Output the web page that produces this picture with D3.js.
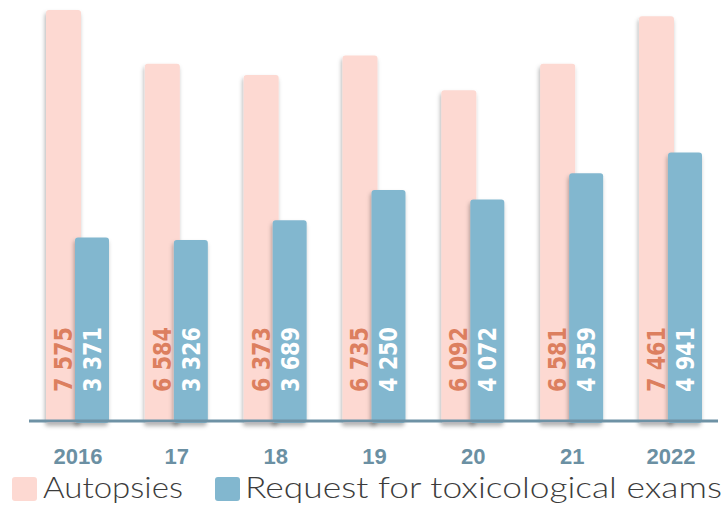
<!DOCTYPE html>
<html><head><meta charset="utf-8">
<script src="https://cdn.jsdelivr.net/npm/d3@7"></script>
<style>html,body{margin:0;padding:0;background:#fff;overflow:hidden}</style>
</head><body>
<svg id="c" width="726" height="507"></svg>
<script>
const years = ["2016","17","18","19","20","21","2022"];
const autopsies = [7575, 6584, 6373, 6735, 6092, 6581, 7461];
const toxRequests = [3371, 3326, 3689, 4250, 4072, 4559, 4941];
const autopsyLabels = ["7 575","6 584","6 373","6 735","6 092","6 581","7 461"];
const toxLabels = ["3 371","3 326","3 689","4 250","4 072","4 559","4 941"];
const seriesNames = ["Autopsies","Request for toxicological exams"];

const pink = "#FDD9D2", blue = "#82B7CF";
const svg = d3.select("#c");
const defs = svg.append("defs");
const f = defs.append("filter").attr("id","sh").attr("x","-50%").attr("y","-10%").attr("width","200%").attr("height","130%");
f.append("feDropShadow").attr("dx",-1).attr("dy",3).attr("stdDeviation",2).attr("flood-color","#000").attr("flood-opacity",0.3);

const x = d3.scaleBand().domain(years).range([46, 703]).paddingInner(0.3524).paddingOuter(0);
const y = d3.scaleLinear().domain([0, 7760]).range([420, 0]);
const bw = 35, off = 29;

const g = svg.append("g");
g.selectAll("rect.a").data(years).join("rect").attr("class","a")
  .attr("x", d => x(d)).attr("width", bw)
  .attr("y", (d,i) => y(autopsies[i])).attr("height", (d,i) => y(0) - y(autopsies[i]) + 3)
  .attr("rx", 3).attr("fill", pink).attr("filter","url(#sh)");
g.selectAll("rect.b").data(years).join("rect").attr("class","b")
  .attr("x", d => x(d) + off).attr("width", bw - 1)
  .attr("y", (d,i) => y(toxRequests[i])).attr("height", (d,i) => y(0) - y(toxRequests[i]) + 3)
  .attr("rx", 3).attr("fill", blue).attr("filter","url(#sh)");

const lblFont = "'DejaVu Sans', sans-serif";
g.selectAll("text.la").data(years).join("text").attr("class","la")
  .attr("transform", d => `translate(${x(d) + 26},${y(0) - 28}) rotate(-90)`)
  .attr("font-family", lblFont).attr("font-weight","bold").attr("font-size", 24)
  .attr("textLength", 65).attr("lengthAdjust","spacingAndGlyphs")
  .attr("fill", "#DC7F5F").text((d,i) => autopsyLabels[i]);
g.selectAll("text.lb").data(years).join("text").attr("class","lb")
  .attr("transform", d => `translate(${x(d) + off + 26},${y(0) - 28}) rotate(-90)`)
  .attr("font-family", lblFont).attr("font-weight","bold").attr("font-size", 24)
  .attr("textLength", 65).attr("lengthAdjust","spacingAndGlyphs")
  .attr("fill", "#ffffff").text((d,i) => toxLabels[i]);

const axis = d3.axisBottom(x).tickSize(0).tickPadding(0);
const ax = svg.append("g").attr("transform", "translate(0,421)").call(axis);
ax.select(".domain").attr("d", "M29,0H718").attr("stroke", "#6E92A5").attr("stroke-width", 3);
ax.selectAll(".tick text").attr("dy", 0).attr("y", 43)
  .attr("font-family", "'Liberation Sans', Arial, sans-serif").attr("font-weight","bold")
  .attr("font-size", 22).attr("fill", "#6B90A3");
ax.selectAll(".tick").attr("transform", d => `translate(${x(d) + 32},0)`);

const legend = svg.append("g");
const lg = [
  {name: seriesNames[0], color: pink, sx: 12, tx: 43, tl: 140},
  {name: seriesNames[1], color: blue, sx: 215, tx: 245, tl: 477}
];
legend.selectAll("rect").data(lg).join("rect")
  .attr("x", d => d.sx).attr("y", 477).attr("width", 25).attr("height", 24).attr("rx", 3)
  .attr("fill", d => d.color);
legend.selectAll("text").data(lg).join("text")
  .attr("x", d => d.tx).attr("y", 498)
  .attr("font-family", "Lato, 'DejaVu Sans', sans-serif").attr("font-weight", 300)
  .attr("font-size", 29).attr("fill", "#3c3c3c")
  .attr("textLength", d => d.tl).attr("lengthAdjust","spacingAndGlyphs")
  .text(d => d.name);
</script>
</body></html>
